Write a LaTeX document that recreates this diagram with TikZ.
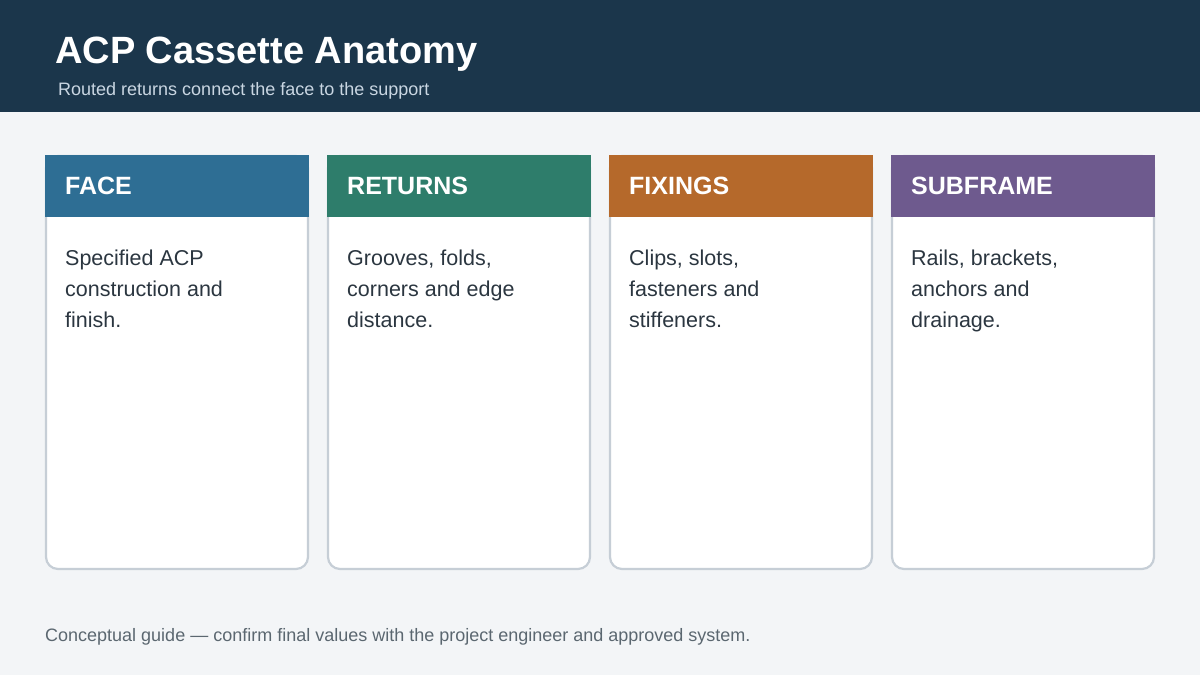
\documentclass[tikz,border=0pt]{standalone}
\usepackage{fontspec}
\setmainfont{Liberation Sans}
\usepackage{xcolor}
\usepackage{tikz}
\usetikzlibrary{positioning}
\definecolor{PageGrey}{HTML}{F3F5F7}
\definecolor{BannerNavy}{HTML}{1B364B}
\definecolor{SubText}{HTML}{C9D6E2}
\definecolor{BodyText}{HTML}{2B3640}
\definecolor{FootText}{HTML}{5B6770}
\definecolor{CardEdge}{HTML}{C6CED6}
\definecolor{FaceBlue}{HTML}{2E6E94}
\definecolor{ReturnGreen}{HTML}{2E7D6B}
\definecolor{FixOrange}{HTML}{B5692B}
\definecolor{FramePurple}{HTML}{6E5A8E}
\tikzset{
  cardbox/.style={fill=white, draw=CardEdge, line width=2.2pt, rounded corners=12pt},
  cardtitle/.style={anchor=base west, inner sep=0pt, text=white, font=\fontsize{25}{28}\selectfont\bfseries},
  cardbody/.style={anchor=north west, inner sep=0pt, align=left, text=BodyText, font=\fontsize{21.5}{31}\selectfont}
}

\begin{document}
\begin{tikzpicture}[x=1pt,y=-1pt]
        \useasboundingbox (0,0) rectangle (1200,675);
        \fill[PageGrey]   (0,0) rectangle (1200,675);
        \fill[BannerNavy] (0,0) rectangle (1200,112);
        \node[anchor=base west, inner sep=0pt, text=white, font=\fontsize{38}{42}\selectfont\bfseries] (title) at (55,63) {ACP Cassette Anatomy};
        \node[anchor=base west, inner sep=0pt, text=SubText, font=\fontsize{18}{22}\selectfont] (subtitle) at (58,95) {Routed returns connect the face to the support};
        % cards
        \path[cardbox] (46,156) rectangle (308,569);
        \fill[FaceBlue]    (45,155) rectangle (309,217);
        \node[cardtitle] (facehead) at (65,194) {FACE};
        \node[cardbody]  (facetext) at (65,250) {Specified ACP\\construction and\\finish.};
        \path[cardbox] (328,156) rectangle (590,569);
        \fill[ReturnGreen] (327,155) rectangle (591,217);
        \node[cardtitle] (returnshead) at (347,194) {RETURNS};
        \node[cardbody]  (returnstext) at (347,250) {Grooves, folds,\\corners and edge\\distance.};
        \path[cardbox] (610,156) rectangle (872,569);
        \fill[FixOrange]   (609,155) rectangle (873,217);
        \node[cardtitle] (fixingshead) at (629,194) {FIXINGS};
        \node[cardbody]  (fixingstext) at (629,250) {Clips, slots,\\fasteners and\\stiffeners.};
        \path[cardbox] (892,156) rectangle (1154,569);
        \fill[FramePurple] (891,155) rectangle (1155,217);
        \node[cardtitle] (subframehead) at (911,194) {SUBFRAME};
        \node[cardbody]  (subframetext) at (911,250) {Rails, brackets,\\anchors and\\drainage.};
        % footer note
        \node[anchor=base west, inner sep=0pt, text=FootText, font=\fontsize{18}{22}\selectfont] (footnote) at (45,641) {Conceptual guide — confirm final values with the project engineer and approved system.};
      \end{tikzpicture}
\end{document}
